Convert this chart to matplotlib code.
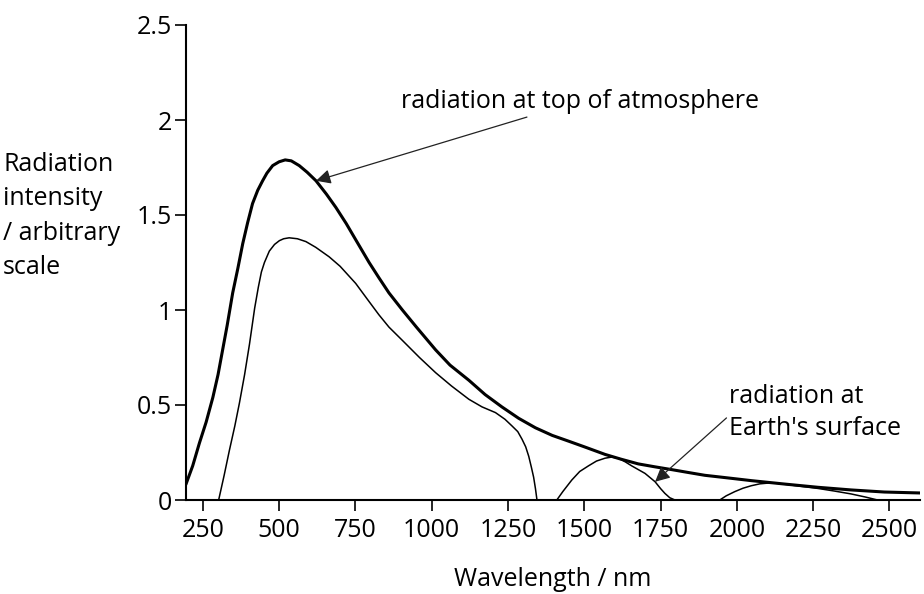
import matplotlib
matplotlib.use("Agg")
import matplotlib.pyplot as plt

# Radiation at top of atmosphere (thick curve)
top_x = [196, 217, 239, 261, 283, 300, 315, 330, 348, 365, 381, 397, 413, 430, 446, 460,
         479, 500, 520, 540, 566, 592, 621, 655, 686, 720, 751, 795, 827, 860, 904, 950,
         1013, 1060, 1122, 1175, 1230, 1285, 1340, 1395, 1448, 1500, 1568, 1620, 1677,
         1730, 1786, 1840, 1895, 1950, 2004, 2047, 2156, 2265, 2374, 2483, 2600]
top_y = [0.088, 0.18, 0.30, 0.41, 0.54, 0.66, 0.79, 0.92, 1.09, 1.22, 1.35, 1.46, 1.56,
         1.63, 1.68, 1.72, 1.76, 1.78, 1.79, 1.785, 1.76, 1.725, 1.68, 1.61, 1.54, 1.455,
         1.37, 1.25, 1.17, 1.09, 1.00, 0.91, 0.79, 0.71, 0.63, 0.555, 0.49, 0.43, 0.38,
         0.34, 0.31, 0.28, 0.24, 0.215, 0.19, 0.175, 0.16, 0.145, 0.13, 0.12, 0.11, 0.102,
         0.084, 0.067, 0.053, 0.042, 0.037]

# Radiation at Earth's surface (thin curve)
surf_x = [302, 320, 337, 355, 370, 387, 403, 420, 432, 442, 452, 468, 485, 501, 515, 533,
          560, 588, 620, 664, 700, 751, 790, 827, 860, 904, 960, 1013, 1065, 1122, 1165,
          1209, 1240, 1263, 1282, 1296, 1308, 1318, 1327, 1334, 1340, 1345, 1410, 1430,
          1459, 1485, 1514, 1540, 1568, 1590, 1612, 1635, 1655, 1699, 1732, 1750, 1764,
          1780, 1797, 1944, 1965, 1993, 2020, 2047, 2075, 2102, 2130, 2156, 2210, 2265,
          2320, 2374, 2420, 2461]
surf_y = [0, 0.13, 0.26, 0.39, 0.51, 0.66, 0.82, 1.01, 1.12, 1.20, 1.25, 1.31, 1.345,
          1.365, 1.375, 1.38, 1.375, 1.36, 1.33, 1.28, 1.23, 1.14, 1.055, 0.975, 0.91,
          0.84, 0.75, 0.67, 0.60, 0.53, 0.49, 0.46, 0.425, 0.39, 0.36, 0.32, 0.28, 0.23,
          0.17, 0.12, 0.06, 0, 0, 0.045, 0.105, 0.15, 0.18, 0.205, 0.22, 0.226, 0.22, 0.20,
          0.18, 0.14, 0.096, 0.06, 0.035, 0.012, 0, 0, 0.022, 0.044, 0.062, 0.075, 0.085,
          0.089, 0.088, 0.083, 0.072, 0.061, 0.047, 0.032, 0.016, 0]

x_ticks = [250, 500, 750, 1000, 1250, 1500, 1750, 2000, 2250, 2500]
y_ticks = [0, 0.5, 1, 1.5, 2, 2.5]
y_tick_labels = ["0", "0.5", "1", "1.5", "2", "2.5"]

plt.rcParams['font.family'] = ['Open Sans', 'DejaVu Sans']
fs = 18

fig = plt.figure(figsize=(9.24, 5.94), dpi=100)
ax = fig.add_axes([186/924, 1 - 500/594, (920 - 186)/924, (500 - 25)/594])

ax.plot(top_x, top_y, color='black', lw=2.2, solid_joinstyle='round')
ax.plot(surf_x, surf_y, color='black', lw=1.1, solid_joinstyle='round')

ax.set_xlim(195, 2600)
ax.set_ylim(0, 2.5)
ax.set_xticks(x_ticks)
ax.set_xticklabels([str(v) for v in x_ticks])
ax.set_yticks(y_ticks)
ax.set_yticklabels(y_tick_labels)
ax.spines['top'].set_visible(False)
ax.spines['right'].set_visible(False)
ax.spines['left'].set_linewidth(1.5)
ax.spines['bottom'].set_linewidth(1.5)
ax.tick_params(axis='both', length=8, width=1.2, labelsize=fs, color='black', pad=2)
ax.tick_params(axis='x', pad=5)

ax.set_xlabel("Wavelength / nm", fontsize=fs, labelpad=17)
fig.text(3/924, 1 - 216/594, "Radiation\nintensity\n/ arbitrary\nscale", fontsize=fs,
         ha='left', va='center', linespacing=1.5)

ax.annotate("radiation at top of atmosphere", xy=(621, 1.68), xytext=(900, 2.1),
            fontsize=fs, ha='left', va='center',
            arrowprops=dict(arrowstyle='-|>', color='#222222', lw=0.9,
                            mutation_scale=22, shrinkA=2, shrinkB=0))
ax.annotate("radiation at\nEarth's surface", xy=(1732, 0.096), xytext=(1975, 0.46),
            fontsize=fs, ha='left', va='center', linespacing=1.35,
            arrowprops=dict(arrowstyle='-|>', color='#222222', lw=0.9,
                            mutation_scale=22, shrinkA=0, shrinkB=0,
                            relpos=(0, 0.45)))

fig.savefig("out.png", dpi=100)
